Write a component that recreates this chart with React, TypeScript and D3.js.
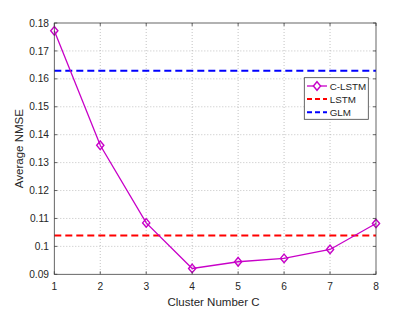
import React from "react";
import * as d3 from "d3";

const clusters = [1, 2, 3, 4, 5, 6, 7, 8];
const clstm = [0.1772, 0.1362, 0.1084, 0.0921, 0.0945, 0.0957, 0.0989, 0.1082];
const lstmValue = 0.1039;
const glmValue = 0.1629;
const yTicks = [0.09, 0.1, 0.11, 0.12, 0.13, 0.14, 0.15, 0.16, 0.17, 0.18];
const yTickLabels = ["0.09", "0.1", "0.11", "0.12", "0.13", "0.14", "0.15", "0.16", "0.17", "0.18"];
const legendLabels = ["C-LSTM", "LSTM", "GLM"];

const W = 415, H = 309;
const M = { left: 54.3, right: 376, top: 23, bottom: 274.3 };
const FONT = "'Liberation Sans', Arial, Helvetica, sans-serif";
const MAG = "#c800c8";

export default function App() {
  const x = d3.scaleLinear().domain([1, 8]).range([M.left, M.right]);
  const y = d3.scaleLinear().domain([0.09, 0.18]).range([M.bottom, M.top]);
  const line = d3.line<number>().x((_, i) => x(clusters[i])).y((d) => y(d));
  const diamond = (cx: number, cy: number) =>
    `M${cx},${cy - 4.3}L${cx + 3.6},${cy}L${cx},${cy + 4.3}L${cx - 3.6},${cy}Z`;
  const axisColor = "#404040";
  const lg = { x: 304.3, y: 77.7, w: 64, h: 41.6 };
  const rows = [86, 99, 112.3];
  return (
    <svg width={W} height={H} style={{ position: "absolute", left: 0, top: 0, background: "#fff" }}>
      <rect x={0} y={0} width={W} height={H} fill="#fff" />
      {/* grid */}
      {clusters.slice(1, -1).map((c) => (
        <line key={"gx" + c} x1={x(c)} x2={x(c)} y1={M.top} y2={M.bottom} stroke="#9a9a9a" strokeWidth={0.6} strokeDasharray="1,2" />
      ))}
      {yTicks.slice(1, -1).map((t) => (
        <line key={"gy" + t} x1={M.left} x2={M.right} y1={y(t)} y2={y(t)} stroke="#9a9a9a" strokeWidth={0.6} strokeDasharray="1,2" />
      ))}
      {/* reference lines */}
      <line x1={M.left} x2={M.right} y1={y(lstmValue)} y2={y(lstmValue)} stroke="#ff0000" strokeWidth={2} strokeDasharray="7,4" />
      <line x1={M.left} x2={M.right} y1={y(glmValue)} y2={y(glmValue)} stroke="#0000ff" strokeWidth={2} strokeDasharray="7,4" />
      {/* C-LSTM */}
      <path d={line(clstm) || ""} fill="none" stroke={MAG} strokeWidth={1.3} />
      {clstm.map((v, i) => (
        <path key={"m" + i} d={diamond(x(clusters[i]), y(v))} fill="none" stroke={MAG} strokeWidth={1.4} />
      ))}
      {/* box */}
      <rect x={M.left} y={M.top} width={M.right - M.left} height={M.bottom - M.top} fill="none" stroke={axisColor} strokeWidth={0.8} />
      {/* ticks */}
      {clusters.map((c) => (
        <g key={"tx" + c}>
          <line x1={x(c)} x2={x(c)} y1={M.bottom} y2={M.bottom - 3} stroke={axisColor} strokeWidth={0.8} />
          <line x1={x(c)} x2={x(c)} y1={M.top} y2={M.top + 3} stroke={axisColor} strokeWidth={0.8} />
          <text x={x(c)} y={289.5} textAnchor="middle" fontFamily={FONT} fontSize={10.2} fill="#262626">{c}</text>
        </g>
      ))}
      {yTicks.map((t, i) => (
        <g key={"ty" + t}>
          <line x1={M.left} x2={M.left + 3} y1={y(t)} y2={y(t)} stroke={axisColor} strokeWidth={0.8} />
          <line x1={M.right} x2={M.right - 3} y1={y(t)} y2={y(t)} stroke={axisColor} strokeWidth={0.8} />
          <text x={49} y={y(t) + 3.6} textAnchor="end" fontFamily={FONT} fontSize={10.2} fill="#262626">{yTickLabels[i]}</text>
        </g>
      ))}
      {/* axis labels */}
      <text x={213.5} y={306} textAnchor="middle" fontFamily={FONT} fontSize={11.5} fill="#262626">Cluster Number C</text>
      <text transform={`translate(23,${(M.top + M.bottom) / 2}) rotate(-90)`} textAnchor="middle" fontFamily={FONT} fontSize={11.5} fill="#262626">Average NMSE</text>
      {/* legend */}
      <rect x={lg.x} y={lg.y} width={lg.w} height={lg.h} fill="#fff" stroke={axisColor} strokeWidth={0.8} />
      <line x1={307} x2={327} y1={rows[0]} y2={rows[0]} stroke={MAG} strokeWidth={1.3} />
      <path d={diamond(317, rows[0])} fill="#fff" stroke={MAG} strokeWidth={1.4} />
      <line x1={307} x2={327} y1={rows[1]} y2={rows[1]} stroke="#ff0000" strokeWidth={2} strokeDasharray="5,3" />
      <line x1={307} x2={327} y1={rows[2]} y2={rows[2]} stroke="#0000ff" strokeWidth={2} strokeDasharray="5,3" />
      {legendLabels.map((l, i) => (
        <text key={l} x={329.7} y={rows[i] + 3.5} fontFamily={FONT} fontSize={9.8} fill="#262626">{l}</text>
      ))}
    </svg>
  );
}
